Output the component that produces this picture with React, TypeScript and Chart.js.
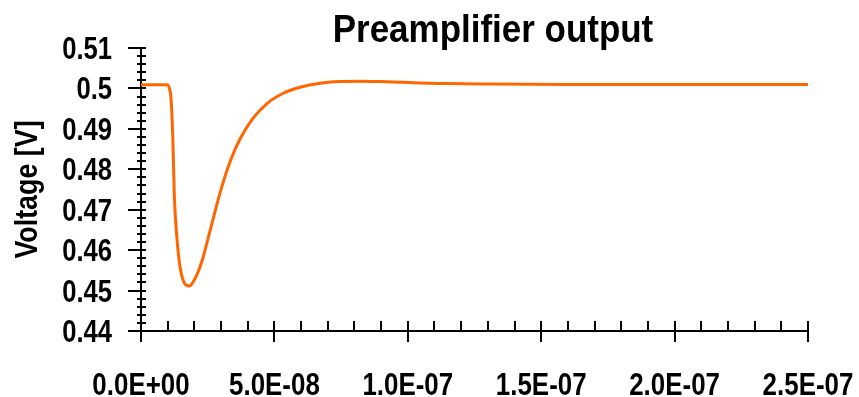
import { useEffect, useRef } from 'react';
import { Chart, registerables } from 'chart.js';

Chart.register(...registerables);

const FONT = '"Liberation Sans", Arial, sans-serif';

// Preamplifier response to a single pulse (time in seconds, voltage in volts)
const timeSeconds = [
  0, 5e-9, 9.6e-9, 11.1e-9, 11.9e-9, 12.5e-9, 13.4e-9, 14.6e-9, 16.2e-9, 18.1e-9,
  20.2e-9, 22.8e-9, 25.9e-9, 29.6e-9, 33.4e-9, 37.1e-9, 42.1e-9, 47.1e-9, 53.3e-9,
  59.6e-9, 67.1e-9, 74.6e-9, 82e-9, 89.6e-9, 95e-9, 102e-9, 115e-9, 130e-9,
  160e-9, 200e-9, 250e-9,
];
const voltage = [
  0.5009, 0.5009, 0.5009, 0.4985, 0.4882, 0.4733, 0.4635, 0.4560, 0.4519, 0.4511,
  0.4529, 0.4572, 0.4648, 0.4741, 0.4819, 0.4875, 0.4927, 0.4962, 0.4988,
  0.5003, 0.5013, 0.5017, 0.5018, 0.5017, 0.5016, 0.5014, 0.5012, 0.5011,
  0.5010, 0.5010, 0.5010,
];

const xTickLabels = ['0.0E+00', '5.0E-08', '1.0E-07', '1.5E-07', '2.0E-07', '2.5E-07'];
const yTickLabels = ['0.44', '0.45', '0.46', '0.47', '0.48', '0.49', '0.5', '0.51'];

const chartTitle = 'Preamplifier output';
const yAxisTitle = 'Voltage [V]';

const X_MIN = 0;
const X_MAX = 2.5e-7;
const X_MAJOR = 5e-8;
const X_MINOR = 1e-8;
const Y_MIN = 0.44;
const Y_MAX = 0.51;
const Y_MAJOR = 0.01;
const Y_MINOR = 0.002;

// Bold condensed text: a regular bold face squeezed horizontally
function condensedText(
  ctx: CanvasRenderingContext2D,
  text: string,
  x: number,
  y: number,
  size: number,
  squeeze: number,
  align: CanvasTextAlign,
  rotation = 0,
) {
  ctx.save();
  ctx.translate(x, y);
  if (rotation) ctx.rotate(rotation);
  ctx.scale(squeeze, 1);
  ctx.font = `bold ${size}px ${FONT}`;
  ctx.fillStyle = '#000';
  ctx.textAlign = align;
  ctx.textBaseline = 'alphabetic';
  ctx.fillText(text, 0, 0);
  ctx.restore();
}

// Axis lines, crossing tick marks, tick labels and titles
const axisDecor = {
  id: 'axisDecor',
  beforeDatasetsDraw(chart: any) {
    const { ctx, chartArea: a, scales } = chart;
    const xs = scales.x;
    const ys = scales.y;
    ctx.save();
    ctx.strokeStyle = '#000';
    ctx.lineWidth = 2;
    ctx.beginPath();
    ctx.moveTo(a.left, ys.getPixelForValue(Y_MAX));
    ctx.lineTo(a.left, a.bottom);
    ctx.moveTo(a.left, a.bottom);
    ctx.lineTo(xs.getPixelForValue(X_MAX), a.bottom);

    const yCount = Math.round((Y_MAX - Y_MIN) / Y_MINOR);
    const yPer = Math.round(Y_MAJOR / Y_MINOR);
    for (let k = 0; k <= yCount; k++) {
      const py = Math.round(ys.getPixelForValue(Y_MIN + k * Y_MINOR));
      const major = k % yPer === 0;
      ctx.moveTo(a.left - (major ? 13 : 4), py);
      ctx.lineTo(a.left + 5, py);
    }
    const xCount = Math.round((X_MAX - X_MIN) / X_MINOR);
    const xPer = Math.round(X_MAJOR / X_MINOR);
    for (let k = 0; k <= xCount; k++) {
      const px = Math.round(xs.getPixelForValue(X_MIN + k * X_MINOR));
      const major = k % xPer === 0;
      ctx.moveTo(px, a.bottom - 10);
      ctx.lineTo(px, a.bottom + (major ? 11 : 0));
    }
    ctx.stroke();
    ctx.restore();

    yTickLabels.forEach((label, i) => {
      const py = ys.getPixelForValue(Y_MIN + i * Y_MAJOR);
      condensedText(ctx, label, a.left - 29, py + 11, 30.5, 0.84, 'right');
    });
    xTickLabels.forEach((label, i) => {
      const px = xs.getPixelForValue(X_MIN + i * X_MAJOR);
      condensedText(ctx, label, px, a.bottom + 64, 32, 0.81, 'center');
    });
    condensedText(ctx, yAxisTitle, 37, (a.top + a.bottom) / 2, 30.5, 0.88, 'center', -Math.PI / 2);
    condensedText(ctx, chartTitle, 493, 42, 38, 0.92, 'center');
  },
};

export default function App() {
  const canvasRef = useRef<HTMLCanvasElement | null>(null);

  useEffect(() => {
    const canvas = canvasRef.current;
    if (!canvas) return;
    const points = timeSeconds.map((t, i) => ({ x: t, y: voltage[i] }));
    const chart = new Chart(canvas, {
      type: 'line',
      data: {
        datasets: [
          {
            label: chartTitle,
            data: points,
            borderColor: '#ff6600',
            borderWidth: 3,
            pointRadius: 0,
            fill: false,
            cubicInterpolationMode: 'monotone',
          },
        ],
      },
      options: {
        animation: false,
        responsive: false,
        maintainAspectRatio: false,
        layout: { padding: { top: 48, right: 51, left: 0, bottom: 0 } },
        plugins: {
          legend: { display: false },
          title: { display: false },
          tooltip: { enabled: false },
        },
        scales: {
          x: {
            type: 'linear',
            min: X_MIN,
            max: X_MAX,
            grid: { display: false, drawTicks: false },
            border: { display: false },
            ticks: { display: false, stepSize: X_MAJOR },
            afterFit: (s: any) => {
              s.height = 66;
            },
          },
          y: {
            type: 'linear',
            min: Y_MIN,
            max: Y_MAX,
            grid: { display: false, drawTicks: false },
            border: { display: false },
            ticks: { display: false, stepSize: Y_MAJOR },
            afterFit: (s: any) => {
              s.width = 141;
            },
          },
        },
      },
      plugins: [axisDecor],
    });
    return () => chart.destroy();
  }, []);

  return (
    <div style={{ position: 'fixed', left: 0, top: 0, width: 859, height: 397, background: '#fff' }}>
      <canvas ref={canvasRef} width={859} height={397} style={{ display: 'block' }} />
    </div>
  );
}
